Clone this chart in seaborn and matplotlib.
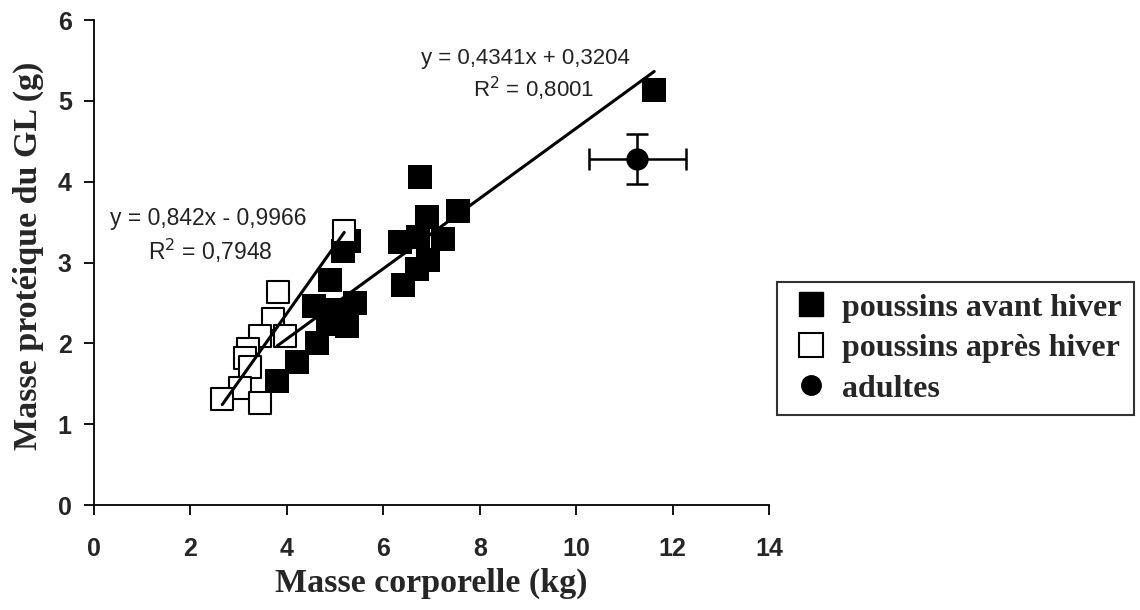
import matplotlib
matplotlib.use("Agg")
import matplotlib.pyplot as plt
from matplotlib.lines import Line2D
import seaborn as sns
import numpy as np
import pandas as pd

# ---- data ----
avant_x = [11.62, 6.76, 7.55, 6.91, 6.35, 6.72, 7.24, 6.93, 6.70, 6.41,
           5.29, 5.17, 4.90, 4.56, 5.41, 5.00, 5.25, 4.86, 4.62, 4.21, 3.80]
avant_y = [5.14, 4.06, 3.64, 3.56, 3.26, 3.32, 3.29, 3.03, 2.92, 2.72,
           3.27, 3.14, 2.78, 2.46, 2.50, 2.41, 2.22, 2.24, 2.00, 1.77, 1.54]
apres_x = [5.19, 3.82, 3.71, 3.44, 3.96, 3.20, 3.13, 3.24, 3.03, 2.66, 3.44]
apres_y = [3.39, 2.64, 2.30, 2.09, 2.09, 1.93, 1.82, 1.71, 1.45, 1.31, 1.26]
adult_x = [11.27]
adult_y = [4.28]
adult_xerr = [1.0]
adult_yerr = [0.31]

fit_avant = (0.4341, 0.3204)
fit_apres = (0.842, -0.9966)
eq_avant = ["y = 0,4341x + 0,3204", "R$^2$ = 0,8001"]
eq_apres = ["y = 0,842x - 0,9966", "R$^2$ = 0,7948"]
labels = ["poussins avant hiver", "poussins après hiver", "adultes"]
xticks = [0, 2, 4, 6, 8, 10, 12, 14]
yticks = [0, 1, 2, 3, 4, 5, 6]

sns.set_style("white")
plt.rcParams["font.family"] = ["Liberation Sans", "DejaVu Sans"]

fig = plt.figure(figsize=(11.4, 6.1), dpi=100)
ax = fig.add_axes([0.0825, 0.172, 0.592, 0.795])

df_av = pd.DataFrame({"x": avant_x, "y": avant_y})
df_ap = pd.DataFrame({"x": apres_x, "y": apres_y})

# regression lines
for xs, (a, b) in [(avant_x, fit_avant), (apres_x, fit_apres)]:
    lx = np.array([min(xs), max(xs)])
    sns.lineplot(x=lx, y=a * lx + b, ax=ax, color="black", lw=2.2, zorder=3)

sns.scatterplot(data=df_av, x="x", y="y", marker="s", s=290, color="black",
                edgecolor="black", linewidth=0, ax=ax, zorder=2)
sns.scatterplot(data=df_ap, x="x", y="y", marker="s", s=250, color="white",
                edgecolor="black", linewidth=1.5, ax=ax, zorder=2)
ax.errorbar(adult_x, adult_y, xerr=adult_xerr, yerr=adult_yerr, fmt="o",
            color="black", ms=15, capsize=8, elinewidth=1.8, capthick=1.8, zorder=4)

ax.set_xlim(0, 14)
ax.set_ylim(0, 6)
ax.set_xticks(xticks)
ax.set_yticks(yticks)
for sp in ["top", "right"]:
    ax.spines[sp].set_visible(False)
for sp in ["left", "bottom"]:
    ax.spines[sp].set_color("black")
    ax.spines[sp].set_linewidth(1.3)
ax.tick_params(axis="both", direction="out", length=7, width=1.3, color="black",
               left=True, bottom=True)
ax.tick_params(axis="x", pad=16)
ax.tick_params(axis="y", pad=9)
for lab in ax.get_xticklabels() + ax.get_yticklabels():
    lab.set_fontfamily(["Liberation Sans Narrow", "Liberation Sans"])
    lab.set_fontweight("bold")
    lab.set_fontsize(18)

ax.set_xlabel("Masse corporelle (kg)", family="Liberation Serif", weight="bold",
              fontsize=24.5, labelpad=5)
ax.set_ylabel("Masse protéique du GL (g)", family="Liberation Serif", weight="bold",
              fontsize=24.5, labelpad=10, y=0.515)

# equations
ax.text(8.94, 5.53, eq_avant[0], ha="center", va="center", fontsize=16, color="#222222")
ax.text(9.11, 5.15, eq_avant[1], ha="center", va="center", fontsize=16, color="#222222")
ax.text(2.37, 3.55, eq_apres[0], ha="center", va="center", fontsize=16.5, color="#222222")
ax.text(2.41, 3.15, eq_apres[1], ha="center", va="center", fontsize=16.5, color="#222222")

handles = [
    Line2D([], [], marker="s", ls="none", color="black", ms=17),
    Line2D([], [], marker="s", ls="none", mfc="white", mec="black", mew=1.5, ms=17),
    Line2D([], [], marker="o", ls="none", color="black", ms=14),
]
leg = fig.legend(handles, labels, loc="lower left",
                 bbox_to_anchor=(0.682, 0.320, 0.313, 0.221), mode="expand",
                 frameon=True, fancybox=False, edgecolor="black",
                 prop={"family": "Liberation Serif", "weight": "bold", "size": 23},
                 handlelength=1.4, handletextpad=0.28, labelspacing=0.35,
                 borderpad=0.35, borderaxespad=0)
leg.get_frame().set_linewidth(1.5)

fig.savefig("out.png", dpi=100)
